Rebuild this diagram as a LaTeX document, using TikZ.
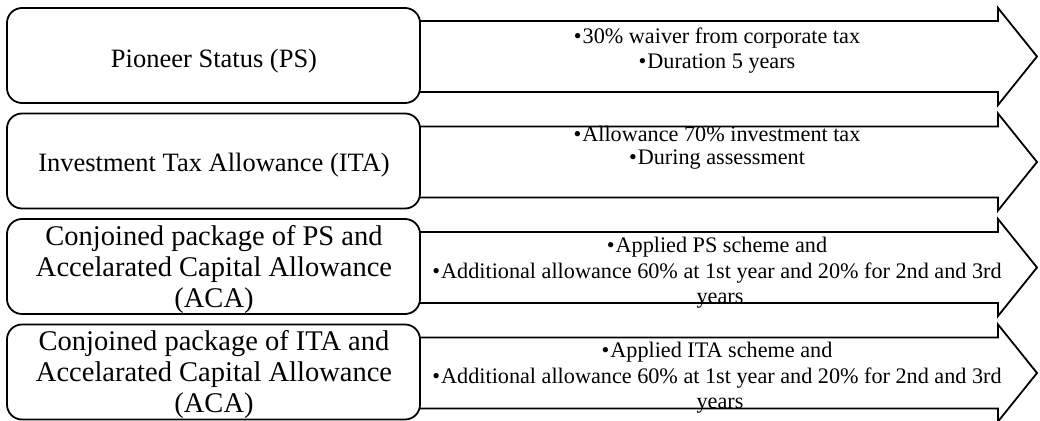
\documentclass[tikz,border=0pt]{standalone}
\usepackage{fontspec}
\setmainfont{Liberation Serif}
\begin{document}
\begin{tikzpicture}[x=1pt,y=-1pt,
  leftbox/.style={draw, line width=1.8pt, rounded corners=15pt, fill=white,
    minimum width=413pt, minimum height=95pt, inner sep=0pt},
  arrowshape/.style={draw, line width=1.8pt, fill=white, line join=miter},
  ltext/.style={anchor=base, inner sep=0pt, font=\fontsize{26.5}{31}\selectfont},
  ltextb/.style={anchor=base, inner sep=0pt, font=\fontsize{28.5}{31}\selectfont},
  rtext/.style={anchor=base, inner sep=0pt, font=\fontsize{22.2}{25.5}\selectfont}]
\path[use as bounding box] (0,0) rectangle (1040,420);

% arrows
\foreach \T/\n in {8/1,113.5/2,219/3,324.5/4}{
  \draw[arrowshape] (415,\T+13) -- (998,\T+13) -- (998,\T) -- (1037,\T+48.5)
    -- (998,\T+97) -- (998,\T+84) -- (415,\T+84) -- cycle;
}

% left boxes
\node[leftbox] (b1) at (213.5,55.5) {};
\node[leftbox] (b2) at (213.5,161) {};
\node[leftbox] (b3) at (213.5,266.5) {};
\node[leftbox] (b4) at (213.5,372) {};

% left texts
\node[ltext] (l1) at (214,67) {Pioneer Status (PS)};
\node[ltext] (l2) at (214,171.5) {Investment Tax Allowance (ITA)};
\node[ltextb] (l3a) at (214,245) {Conjoined package of PS and};
\node[ltextb] (l3b) at (214,276) {Accelarated Capital Allowance};
\node[ltextb] (l3c) at (214,307) {(ACA)};
\node[ltextb] (l4a) at (214,350.5) {Conjoined package of ITA and};
\node[ltextb] (l4b) at (214,381.5) {Accelarated Capital Allowance};
\node[ltextb] (l4c) at (214,412.5) {(ACA)};

% right texts
\node[rtext] (r1a) at (717,44) {\textbullet\kern1pt 30\% waiver from corporate tax};
\node[rtext] (r1b) at (717,68) {\textbullet\kern1pt Duration 5 years};
\node[rtext] (r2a) at (717,141) {\textbullet\kern1pt Allowance 70\% investment tax};
\node[rtext] (r2b) at (717,164) {\textbullet\kern1pt During assessment};
\node[rtext] (r3a) at (717,252) {\textbullet\kern1pt Applied PS scheme and};
\node[rtext] (r3b) at (717,278) {\textbullet\kern1pt Additional allowance 60\% at 1st year and 20\% for 2nd and 3rd};
\node[rtext] (r3c) at (720,303) {years};
\node[rtext] (r4a) at (717,357) {\textbullet\kern1pt Applied ITA scheme and};
\node[rtext] (r4b) at (717,383) {\textbullet\kern1pt Additional allowance 60\% at 1st year and 20\% for 2nd and 3rd};
\node[rtext] (r4c) at (720,408) {years};
\end{tikzpicture}
\end{document}
